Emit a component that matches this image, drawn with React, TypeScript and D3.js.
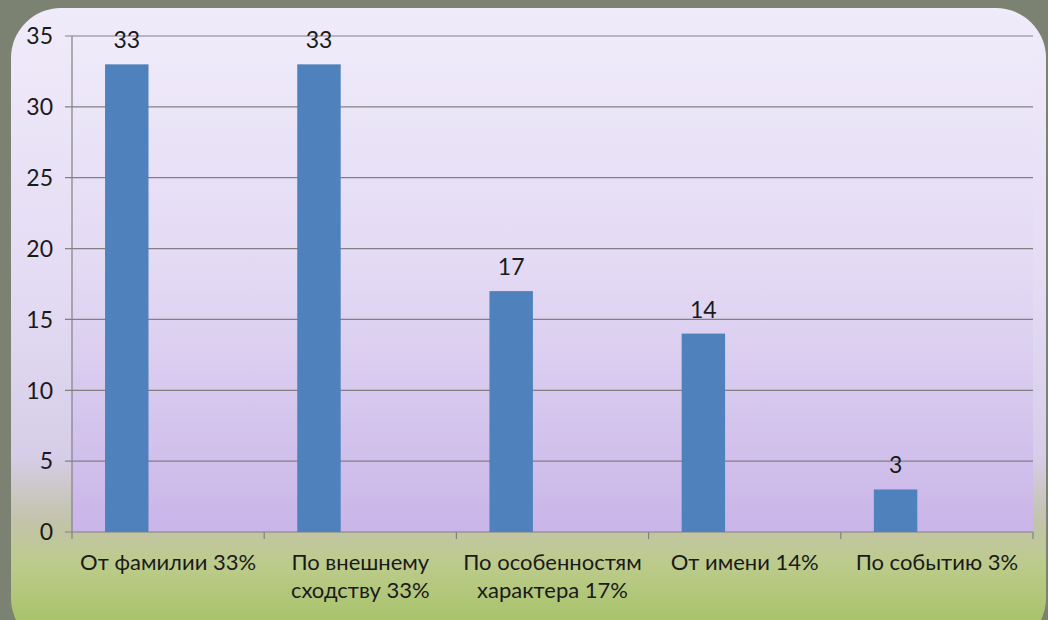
import React from "react";
import * as d3 from "d3";

const categories: string[][] = [
  ["От фамилии 33%"],
  ["По внешнему", "сходству 33%"],
  ["По особенностям", "характера 17%"],
  ["От имени 14%"],
  ["По событию 3%"],
];
const values: number[] = [33, 33, 17, 14, 3];
const yTicks: number[] = [0, 5, 10, 15, 20, 25, 30, 35];

const W = 1048;
const H = 620;
const plot = { left: 72, right: 1033, top: 36, bottom: 532 };
const FONT = "Lato, 'Open Sans', 'Noto Sans', sans-serif";

export default function App() {
  const x = d3
    .scaleBand<number>()
    .domain(d3.range(categories.length))
    .range([plot.left, plot.right])
    .paddingInner(0)
    .paddingOuter(0);
  const y = d3.scaleLinear().domain([0, 35]).range([plot.bottom, plot.top]);
  const bw = x.bandwidth();
  const barOffset = bw * 0.172;
  const barWidth = bw * 0.226;

  return (
    <svg
      width={W}
      height={H}
      style={{ position: "absolute", left: 0, top: 0, display: "block" }}
      fontFamily={FONT}
    >
      <defs>
        <linearGradient id="outerG" x1="0" y1="0" x2="0" y2="1">
          <stop offset="0%" stopColor="#f0ebfa" />
          <stop offset="45%" stopColor="#e3dbf3" />
          <stop offset="70%" stopColor="#d6cde8" />
          <stop offset="80%" stopColor="#c3c3ab" />
          <stop offset="87%" stopColor="#bccb8b" />
          <stop offset="100%" stopColor="#9fbf5b" />
        </linearGradient>
        <linearGradient id="plotG" x1="0" y1="0" x2="0" y2="1">
          <stop offset="0%" stopColor="#efebfa" />
          <stop offset="50%" stopColor="#e2d8f3" />
          <stop offset="100%" stopColor="#c9b5e8" />
        </linearGradient>
      </defs>
      <rect x={0} y={0} width={W} height={H} fill="#7c8271" />
      <rect x={11} y={8} width={1035} height={640} rx={50} ry={50} fill="url(#outerG)" />
      <rect
        x={plot.left}
        y={plot.top}
        width={plot.right - plot.left}
        height={plot.bottom - plot.top}
        fill="url(#plotG)"
      />
      {yTicks.map((t) => (
        <g key={t}>
          <line
            x1={plot.left - 7}
            x2={plot.right}
            y1={y(t)}
            y2={y(t)}
            stroke="#818181"
            strokeWidth={1.2}
          />
          <text
            x={53}
            y={y(t)}
            dy="0.36em"
            textAnchor="end"
            fontSize={23}
            fill="#1a1a1a"
          >
            {t}
          </text>
        </g>
      ))}
      <line x1={plot.left} x2={plot.left} y1={plot.top} y2={plot.bottom} stroke="#818181" strokeWidth={1.2} />
      {d3.range(categories.length + 1).map((i) => {
        const xx = plot.left + i * bw;
        return (
          <line key={i} x1={xx} x2={xx} y1={plot.bottom} y2={plot.bottom + 7} stroke="#818181" strokeWidth={1.2} />
        );
      })}
      {values.map((v, i) => {
        const x0 = (x(i) as number) + barOffset;
        return (
          <g key={i}>
            <rect x={x0} y={y(v)} width={barWidth} height={y(0) - y(v)} fill="#4f81bd" />
            <text
              x={x0 + barWidth / 2}
              y={y(v) - 16}
              textAnchor="middle"
              fontSize={23}
              fill="#1a1a1a"
            >
              {v}
            </text>
          </g>
        );
      })}
      {categories.map((lines, i) => (
        <text
          key={i}
          x={(x(i) as number) + bw / 2}
          y={570}
          textAnchor="middle"
          fontSize={22}
          fill="#1a1a1a"
        >
          {lines.map((l, j) => (
            <tspan key={j} x={(x(i) as number) + bw / 2} dy={j === 0 ? 0 : 28}>
              {l}
            </tspan>
          ))}
        </text>
      ))}
    </svg>
  );
}
